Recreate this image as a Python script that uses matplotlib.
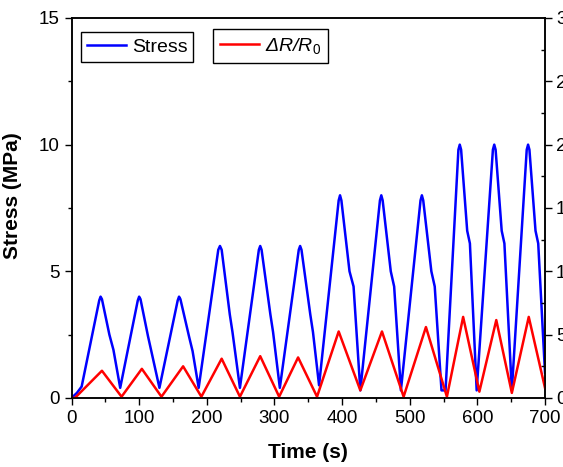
import numpy as np
import matplotlib.pyplot as plt
from matplotlib.ticker import MultipleLocator

plt.rcParams['font.family'] = ['Liberation Sans', 'DejaVu Sans']
plt.rcParams['mathtext.fontset'] = 'custom'
plt.rcParams['mathtext.rm'] = 'Liberation Sans'
plt.rcParams['mathtext.it'] = 'Liberation Sans:italic'

# Stress (MPa) during the loading cycles
t_stress = [0, 8, 15, 41, 43, 45, 56, 62, 72,
            98, 100, 102, 113, 118, 130,
            157, 159, 161, 174, 179, 188,
            217, 219.5, 222, 234, 238, 249,
            277, 279, 281, 294, 298, 308,
            336, 338, 340, 353, 357, 366,
            395, 397, 399, 411, 417, 427,
            456, 458, 460, 472, 477, 487,
            516, 518, 520, 532, 537, 547, 553,
            572, 574, 576, 585, 589, 599,
            623, 625, 627, 636, 640, 651,
            673, 675, 677, 686, 690, 700]
stress = [0, 0.2, 0.45, 3.85, 4.0, 3.9, 2.5, 1.9, 0.4,
          3.85, 4.0, 3.9, 2.45, 1.85, 0.4,
          3.85, 4.0, 3.9, 2.4, 1.85, 0.4,
          5.85, 6.0, 5.85, 3.3, 2.6, 0.4,
          5.85, 6.0, 5.85, 3.3, 2.6, 0.4,
          5.85, 6.0, 5.85, 3.3, 2.6, 0.5,
          7.8, 8.0, 7.8, 5.0, 4.4, 0.3,
          7.8, 8.0, 7.8, 5.0, 4.4, 0.3,
          7.8, 8.0, 7.8, 5.0, 4.4, 0.3, 0.3,
          9.8, 10.0, 9.8, 6.6, 6.1, 0.3,
          9.8, 10.0, 9.8, 6.6, 6.1, 0.3,
          9.8, 10.0, 9.8, 6.6, 6.1, 1.0]

# Relative resistance change (%)
t_res = [0, 5, 45, 74, 104, 133, 165, 192, 222, 249, 279, 307, 335, 363,
         395, 427, 459, 491, 524, 555, 579, 603, 628, 651, 676, 700]
resist = [0, 0, 2.15, 0.1, 2.3, 0.1, 2.5, 0.1, 3.1, 0.1, 3.3, 0.1, 3.2, 0.1,
          5.25, 0.6, 5.25, 0.1, 5.6, 0.1, 6.4, 0.5, 6.15, 0.4, 6.4, 0.8]

fig = plt.figure(figsize=(5.63, 4.67), dpi=100)
ax = fig.add_axes([0.127, 0.1478, 0.841, 0.8137])
ax2 = ax.twinx()

l1, = ax.plot(t_stress, stress, color='#0000ff', lw=1.8, label='Stress')
l2, = ax2.plot(t_res, resist, color='#ff0000', lw=1.8, label=r'ΔR/R$_{\mathit{0}}$')

ax.set_xlim(0, 700)
ax.set_ylim(0, 15)
ax2.set_ylim(0, 30)

ax.xaxis.set_major_locator(MultipleLocator(100))
ax.xaxis.set_minor_locator(MultipleLocator(50))
ax.yaxis.set_major_locator(MultipleLocator(5))
ax.yaxis.set_minor_locator(MultipleLocator(2.5))
ax2.yaxis.set_major_locator(MultipleLocator(5))
ax2.yaxis.set_minor_locator(MultipleLocator(2.5))

ax.tick_params(which='major', direction='out', length=5, width=1, labelsize=13.5, top=False)
ax.tick_params(which='minor', direction='out', length=3, width=1, top=False)
ax2.tick_params(which='major', direction='out', length=5, width=1, labelsize=13.5, pad=3)
ax2.tick_params(which='minor', direction='in', length=3, width=1)

for a in (ax, ax2):
    for s in a.spines.values():
        s.set_linewidth(1.1)

ax.set_xlabel('Time (s)', fontsize=15, fontweight='bold')
ax.xaxis.set_label_coords(0.5, -0.118)
ax.set_ylabel('Stress (MPa)', fontsize=15, fontweight='bold')
ax.yaxis.set_label_coords(-0.104, 0.533)

leg_kw = dict(frameon=True, fancybox=False, edgecolor='black',
              handlelength=2.0, handletextpad=0.3,
              borderaxespad=0, framealpha=1)
leg1 = ax.legend(handles=[l1], loc='upper left', bbox_to_anchor=(0.021, 0.962),
                 prop={'size': 14}, borderpad=0.3, **leg_kw)
leg1.get_frame().set_linewidth(1)
leg2 = ax2.legend(handles=[l2], loc='upper left', bbox_to_anchor=(0.299, 0.971),
                  prop={'size': 14, 'style': 'italic'}, borderpad=0.35, **leg_kw)
leg2.get_frame().set_linewidth(1)

fig.savefig('out.png', dpi=100)
